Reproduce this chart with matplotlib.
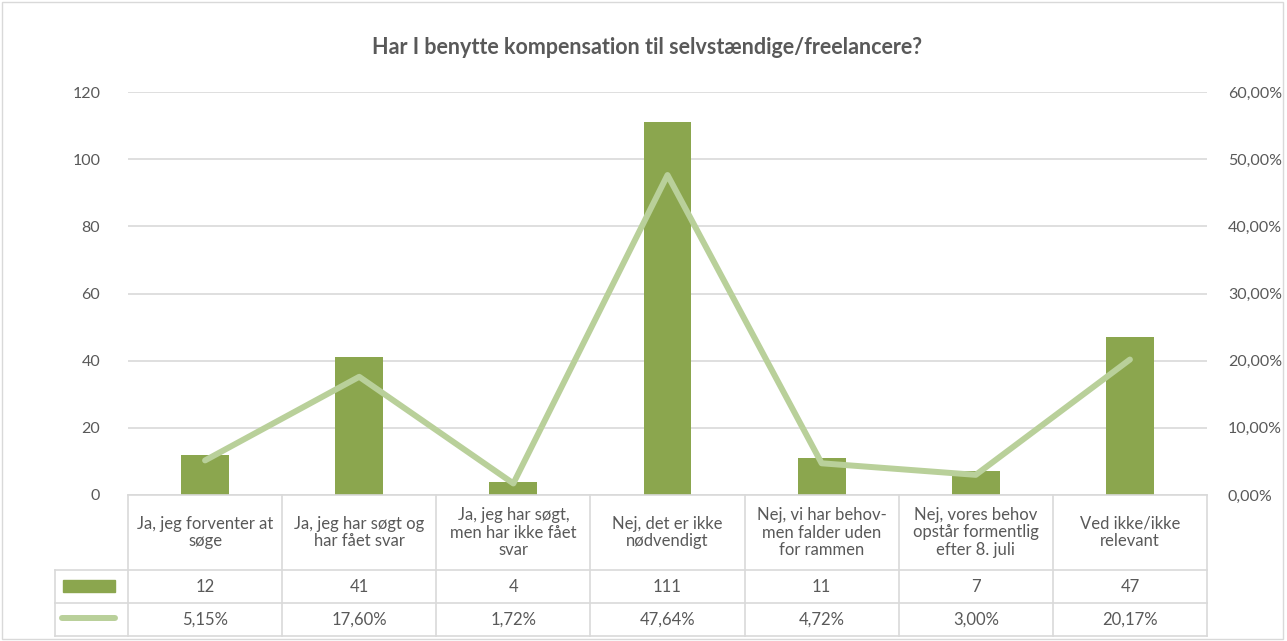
import matplotlib.pyplot as plt
from matplotlib.patches import Rectangle
from matplotlib.lines import Line2D
from matplotlib.ticker import FuncFormatter

plt.rcParams['font.family'] = ['Lato', 'DejaVu Sans']

categories = ['Ja, jeg forventer at\nsøge', 'Ja, jeg har søgt og\nhar fået svar',
              'Ja, jeg har søgt,\nmen har ikke fået\nsvar', 'Nej, det er ikke\nnødvendigt',
              'Nej, vi har behov-\nmen falder uden\nfor rammen', 'Nej, vores behov\nopstår formentlig\nefter 8. juli',
              'Ved ikke/ikke\nrelevant']
counts = [12, 41, 4, 111, 11, 7, 47]
shares = [5.15, 17.60, 1.72, 47.64, 4.72, 3.00, 20.17]

bar_col = '#8BA64E'
line_col = '#B9D09A'
txt = '#595959'
grid = '#D9D9D9'

W, H = 1287, 641
fig = plt.figure(figsize=(W / 100, H / 100), dpi=100)
L, R, T, B = 128, 1207, 92, 495
ax = fig.add_axes([L / W, 1 - B / H, (R - L) / W, (B - T) / H])
ax2 = ax.twinx()

x = list(range(len(categories)))
ax.bar(x, counts, width=0.31, color=bar_col, zorder=2)
ax2.plot(x, [s / 100 for s in shares], color=line_col, lw=4.3, solid_capstyle='round', zorder=3)

ax.set_xlim(-0.5, len(categories) - 0.5)
ax.set_ylim(0, 120)
ax.set_yticks(range(0, 121, 20))
ax2.set_ylim(0, 0.6)
ax2.set_yticks([i / 10 for i in range(7)])
ax2.yaxis.set_major_formatter(FuncFormatter(lambda v, p: f'{v * 100:.2f}%'.replace('.', ',')))
ax.yaxis.grid(True, color=grid, lw=1.2)
ax.set_axisbelow(True)
ax.set_xticks([])
for a in (ax, ax2):
    for s in a.spines.values():
        s.set_visible(False)
    a.tick_params(axis='y', length=0, labelsize=11.5, colors=txt)
ax.tick_params(axis='y', pad=20)
ax2.tick_params(axis='y', pad=15)
ax.set_zorder(ax2.get_zorder() - 1)
ax.patch.set_visible(False)
ax2.set_zorder(1)

# data table
def fx(px):
    return px / W

def fy(py):
    return 1 - py / H

n = len(categories)
cw = (R - L) / n
rows = [B, 570, 603, 636]
for k in range(n + 1):
    xx = L + k * cw
    fig.add_artist(Line2D([fx(xx), fx(xx)], [fy(B), fy(636)], color=grid, lw=1.2))
fig.add_artist(Line2D([fx(55), fx(55)], [fy(570), fy(636)], color=grid, lw=1.2))
fig.add_artist(Line2D([fx(L), fx(R)], [fy(B), fy(B)], color=grid, lw=1.2))
for r in rows[1:]:
    fig.add_artist(Line2D([fx(55), fx(R)], [fy(r), fy(r)], color=grid, lw=1.2))

for k in range(n):
    cx = L + (k + 0.5) * cw
    fig.text(fx(cx), fy((B + 570) / 2), categories[k], ha='center', va='center',
             fontsize=12, color=txt, linespacing=1.15)
    fig.text(fx(cx), fy(587), str(counts[k]), ha='center', va='center', fontsize=12, color=txt)
    fig.text(fx(cx), fy(620), f'{shares[k]:.2f}%'.replace('.', ','), ha='center', va='center',
             fontsize=12, color=txt)

fig.add_artist(Rectangle((fx(63), fy(592)), fx(115) - fx(63), fy(580) - fy(592), color=bar_col))
fig.add_artist(Line2D([fx(62), fx(115)], [fy(618), fy(618)], color=line_col, lw=4.3,
                      solid_capstyle='round'))

fig.text(0.503, fy(47), 'Har I benytte kompensation til selvstændige/freelancere?', ha='center',
         va='center', fontsize=15.5, fontweight='bold', color=txt)

fig.add_artist(Rectangle((fx(2), fy(639)), fx(1283) - fx(2), fy(2) - fy(639), fill=False,
                         edgecolor=grid, lw=1))

fig.savefig('out.png', dpi=100)
